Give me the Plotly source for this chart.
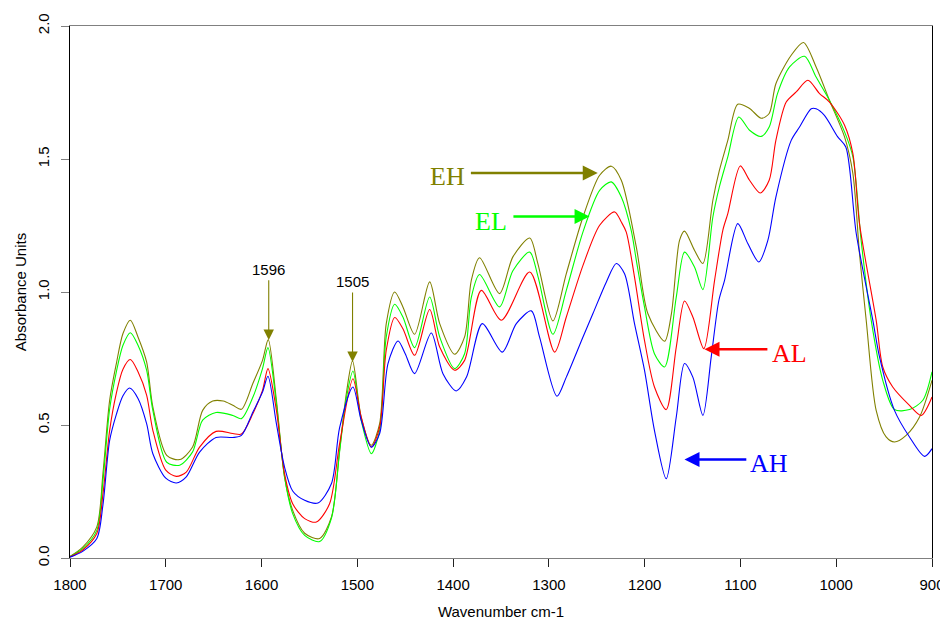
import plotly.graph_objects as go

# ---- data ----
wn_eh = [1800, 1786.7, 1772, 1765.6, 1758.6, 1751.6, 1744.7, 1737, 1729, 1720, 1713.5, 1699, 1685.5, 1672,
         1661.5, 1651, 1640, 1630, 1621, 1609, 1599, 1593, 1584.5, 1576, 1567.5, 1555, 1539.4, 1527, 1518.5,
         1511.5, 1505, 1496, 1485.4, 1476.7, 1469.8, 1461, 1452.4, 1440.2, 1424.5, 1414, 1398.4, 1388, 1381,
         1372.4, 1351.5, 1337.6, 1320, 1311.5, 1295.8, 1281.8, 1264.4, 1247, 1234.8, 1224.4, 1208.7, 1196.7,
         1179.2, 1172, 1163.6, 1158.4, 1148, 1139.2, 1128.8, 1122, 1113.2, 1102.8, 1090.5, 1078.3, 1070, 1063,
         1047, 1034.2, 1021, 1007, 991.3, 982.6, 975.7, 968.7, 958.3, 947.9, 939.2, 927, 913, 900]
abs_eh = [0.006, 0.041, 0.117, 0.318, 0.593, 0.731, 0.844, 0.894, 0.831, 0.737, 0.568, 0.386, 0.37, 0.417,
          0.555, 0.59, 0.59, 0.574, 0.559, 0.657, 0.743, 0.821, 0.593, 0.305, 0.179, 0.093, 0.073, 0.154, 0.405,
          0.618, 0.741, 0.53, 0.424, 0.505, 0.881, 1.0, 0.944, 0.841, 1.038, 0.881, 0.766, 0.831, 1.044,
          1.129, 0.994, 1.132, 1.203, 1.107, 0.891, 1.069, 1.282, 1.439, 1.473, 1.42, 1.169, 0.919,
          0.815, 0.92, 1.194, 1.229, 1.157, 1.107, 1.345, 1.457, 1.57, 1.706, 1.69, 1.653, 1.671, 1.783,
          1.89, 1.938, 1.846, 1.72, 1.583, 1.445, 1.144, 0.894, 0.555, 0.455, 0.436, 0.461, 0.53, 0.668]

wn_el = [1800, 1786.7, 1772, 1765.6, 1758.6, 1751.6, 1744.7, 1737, 1729, 1720, 1713.5, 1699, 1685.5, 1672,
         1661.5, 1647.5, 1630, 1621, 1609, 1599, 1593.3, 1584.5, 1576, 1567.5, 1555, 1539.4, 1527, 1518.5,
         1511.5, 1504.6, 1496, 1485.4, 1476.7, 1469.8, 1461, 1452.4, 1440.2, 1424.5, 1414, 1398.4, 1388, 1381,
         1372.4, 1351.5, 1337.6, 1320, 1311.5, 1295.8, 1281.8, 1264.4, 1247, 1234.8, 1224.4, 1214, 1208.7,
         1200.2, 1189.8, 1179.2, 1167, 1158.4, 1148, 1139.2, 1128.8, 1122, 1113.2, 1101.7, 1090.5, 1078.3,
         1070, 1061.3, 1048.7, 1033.1, 1021, 1007, 991.3, 982.6, 974, 963.5, 951.4, 939.2, 923.5, 909.6, 900]
abs_el = [0.005, 0.035, 0.104, 0.29, 0.56, 0.70, 0.80, 0.847, 0.80, 0.706, 0.555, 0.36, 0.349, 0.399,
          0.518, 0.547, 0.536, 0.524, 0.605, 0.712, 0.791, 0.58, 0.305, 0.167, 0.085, 0.062, 0.15, 0.40,
          0.60, 0.703, 0.518, 0.392, 0.48, 0.831, 0.954, 0.906, 0.791, 0.981, 0.831, 0.712, 0.768, 0.98,
          1.066, 0.944, 1.08, 1.15, 1.06, 0.841, 1.006, 1.226, 1.382, 1.414, 1.357, 1.231, 1.119,
          0.944, 0.768, 0.718, 0.981, 1.15, 1.094, 1.009, 1.282, 1.395, 1.508, 1.658, 1.608, 1.585,
          1.62, 1.746, 1.846, 1.886, 1.808, 1.72, 1.602, 1.508, 1.194, 0.894, 0.668, 0.558, 0.558, 0.593, 0.70]

wn_al = [1800, 1786.7, 1772, 1765.6, 1758.6, 1751.6, 1744.7, 1737, 1729, 1720, 1713.5, 1700, 1689, 1678.6,
         1664.7, 1647.5, 1630, 1621, 1609, 1599, 1593.3, 1584.5, 1576, 1567.5, 1555, 1542.8, 1529, 1518.5,
         1504.6, 1496, 1485.4, 1476.7, 1469.8, 1461, 1452.4, 1440.2, 1424.5, 1414, 1398.4, 1388, 1370.6,
         1349.7, 1320, 1294, 1281.8, 1264.4, 1247, 1231.3, 1224.4, 1219.2, 1210.6, 1200.2, 1189.8, 1177.5,
         1167, 1158.4, 1149.7, 1138.2, 1127, 1118.4, 1113.2, 1100.2, 1090.5, 1079.3, 1070, 1063, 1052.2,
         1041.8, 1029.6, 1017.4, 1007, 991.3, 982.6, 975.7, 958.3, 951.4, 941, 923.5, 911.2, 900]
abs_al = [0.004, 0.03, 0.092, 0.24, 0.48, 0.62, 0.71, 0.746, 0.70, 0.612, 0.48, 0.33, 0.307, 0.323,
          0.417, 0.476, 0.468, 0.466, 0.543, 0.63, 0.712, 0.555, 0.317, 0.204, 0.148, 0.135, 0.204, 0.43,
          0.674, 0.53, 0.417, 0.492, 0.781, 0.904, 0.862, 0.762, 0.934, 0.793, 0.706, 0.743, 1.006,
          0.894, 1.075, 0.774, 0.906, 1.1, 1.251, 1.301, 1.263, 1.225, 1.056, 0.818, 0.643, 0.558,
          0.793, 0.966, 0.906, 0.787, 1.044, 1.232, 1.295, 1.474, 1.42, 1.372, 1.42, 1.57, 1.714,
          1.752, 1.796, 1.746, 1.714, 1.627, 1.52, 1.257, 0.894, 0.718, 0.643, 0.574, 0.536, 0.605]

wn_ah = [1800, 1786.7, 1772, 1765.6, 1758.6, 1751.6, 1744.7, 1737.7, 1729, 1720, 1713.5, 1700, 1689, 1678.6,
         1664.7, 1647.5, 1630, 1621, 1609, 1599, 1593.3, 1584.5, 1576, 1567.5, 1555, 1541.1, 1527, 1518.5,
         1504.6, 1496, 1485.4, 1476.7, 1468, 1457.5, 1450, 1440.2, 1422.8, 1410.6, 1396.7, 1386, 1369.5,
         1348.7, 1334, 1318.3, 1309.8, 1291.6, 1281.8, 1264.4, 1254, 1240, 1229.6, 1221, 1210.6, 1200.2,
         1189.8, 1177.5, 1167, 1158.4, 1149.7, 1139.2, 1130.5, 1122.5, 1116.6, 1102.8, 1092.3, 1080.8,
         1071.4, 1063, 1047, 1038.3, 1026.1, 1021, 1012.3, 998.4, 990, 979.1, 961.8, 954.8, 939.2, 923.5,
         907.8, 900]
abs_ah = [0.003, 0.025, 0.073, 0.20, 0.442, 0.54, 0.61, 0.639, 0.60, 0.505, 0.392, 0.30, 0.282, 0.305,
          0.398, 0.453, 0.453, 0.461, 0.549, 0.624, 0.683, 0.505, 0.342, 0.252, 0.217, 0.207, 0.28, 0.49,
          0.643, 0.518, 0.417, 0.468, 0.731, 0.816, 0.768, 0.693, 0.846, 0.693, 0.628, 0.68, 0.881,
          0.774, 0.881, 0.929, 0.831, 0.608, 0.68, 0.831, 0.919, 1.038, 1.107, 1.069, 0.881, 0.706,
          0.48, 0.298, 0.53, 0.731, 0.68, 0.536, 0.756, 0.969, 1.044, 1.257, 1.182, 1.113,
          1.194, 1.357, 1.57, 1.62, 1.689, 1.689, 1.664, 1.583, 1.545, 1.22, 0.894, 0.756, 0.555, 0.455,
          0.382, 0.411]

series = [
    ("EH", wn_eh, abs_eh, "#808000"),
    ("EL", wn_el, abs_el, "#00FF00"),
    ("AL", wn_al, abs_al, "#FF0000"),
    ("AH", wn_ah, abs_ah, "#0000FF"),
]

x_ticks = [1800, 1700, 1600, 1500, 1400, 1300, 1200, 1100, 1000, 900]
y_ticks = [0.0, 0.5, 1.0, 1.5, 2.0]

# peak markers: label, wavenumber of arrow, tip absorbance, tail absorbance, label absorbance
peak_marks = [("1596", 1592.5, 0.82, 1.05, 1.085), ("1505", 1505, 0.737, 1.004, 1.04)]
# series labels: label, colour, tip wn, tip abs, tail wn, label wn, label abs
series_marks = [
    ("EH", "#808000", 1249, 1.447, 1383, 1405.7, 1.433),
    ("EL", "#00FF00", 1257.5, 1.284, 1338.6, 1360.9, 1.266),
    ("AL", "#FF0000", 1137.5, 0.785, 1070.3, 1048.7, 0.768),
    ("AH", "#0000FF", 1158.4, 0.37, 1092.3, 1070.4, 0.355),
]

fig = go.Figure()
for name, x, y, c in series:
    fig.add_trace(go.Scatter(x=x, y=y, mode="lines", name=name,
                             line=dict(color=c, width=1.1, shape="spline", smoothing=0.8),
                             showlegend=False))

ann = []
for lab, w, tip, tail, ly in peak_marks:
    ann.append(dict(x=w, y=tip, ax=w, ay=tail, xref="x", yref="y", axref="x", ayref="y",
                    text="", showarrow=True, arrowhead=2, arrowsize=1.9, arrowwidth=1.1,
                    arrowcolor="#808000", standoff=0))
    ann.append(dict(x=w, y=ly, xref="x", yref="y", text=lab, showarrow=False,
                    font=dict(family="Liberation Sans, Arial", size=15, color="black")))
for lab, c, tw, ta, tailw, lw, la in series_marks:
    ann.append(dict(x=tw, y=ta, ax=tailw, ay=ta, xref="x", yref="y", axref="x", ayref="y",
                    text="", showarrow=True, arrowhead=2, arrowsize=1.2, arrowwidth=2.5,
                    arrowcolor=c, standoff=0))
    ann.append(dict(x=lw, y=la, xref="x", yref="y", text=lab, showarrow=False,
                    font=dict(family="Liberation Serif, Times New Roman, serif", size=26, color=c)))

# the page body has an 8px margin, so the figure is a little smaller and its margins offset
fig.update_layout(
    width=940, height=612,
    margin=dict(l=62, r=16, t=18, b=62, autoexpand=False),
    paper_bgcolor="white", plot_bgcolor="white",
    font=dict(family="Liberation Sans, Arial, sans-serif", size=15, color="black"),
    annotations=ann,
    xaxis=dict(range=[1800, 900], tickvals=x_ticks, ticks="outside", ticklen=8, tickcolor="#222",
               showline=True, linecolor="#808080", linewidth=1, mirror=True, showgrid=False,
               zeroline=False, tickfont=dict(size=15), ticklabelstandoff=5, automargin=False,
               title=dict(text="Wavenumber cm-1", font=dict(size=15), standoff=20)),
    yaxis=dict(range=[0, 2], tickvals=y_ticks, tickformat=".1f", ticks="outside", ticklen=8,
               tickcolor="#808080", showline=True, linecolor="black", linewidth=1, mirror=True,
               showgrid=False, zeroline=False, tickangle=-90, tickfont=dict(size=15),
               ticklabelstandoff=6, automargin=False,
               title=dict(text="Absorbance Units", font=dict(size=15), standoff=4)),
)

fig.write_html("out.html")
